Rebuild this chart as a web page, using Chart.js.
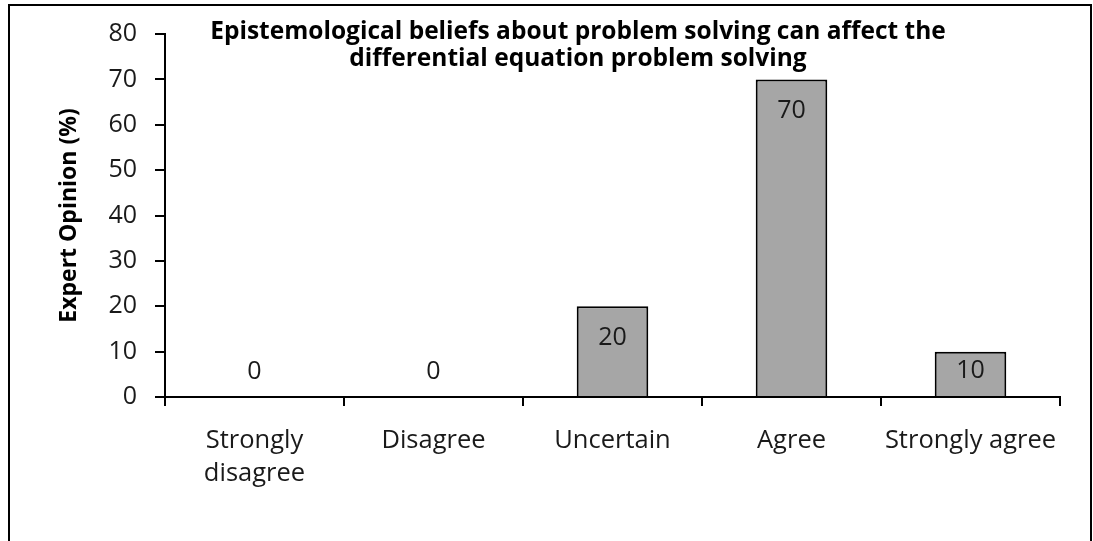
<!DOCTYPE html>
<html>
<head>
<meta charset="utf-8">
<script src="https://cdn.jsdelivr.net/npm/chart.js@4.4.1/dist/chart.umd.min.js"></script>
<style>
  html, body { margin: 0; padding: 0; background: #ffffff; }
  #wrap { position: relative; width: 1093px; height: 541px; }
</style>
</head>
<body>
<div id="wrap"><canvas id="chart" width="1093" height="541"></canvas></div>
<script>
// Responses of the expert panel
const categories = [['Strongly', 'disagree'], 'Disagree', 'Uncertain', 'Agree', 'Strongly agree'];
const opinionPercent = [0, 0, 20, 70, 10];
const yTicks = [0, 10, 20, 30, 40, 50, 60, 70, 80];
const titleLines = [
  'Epistemological beliefs about problem solving can affect the',
  'differential equation problem solving'
];
const yAxisTitle = 'Expert Opinion (%)';

const FONT = "'Open Sans', 'Liberation Sans', sans-serif";
const INK = '#1a1a1a';

// Outer frame around the whole figure
const framePlugin = {
  id: 'frame',
  afterDraw(chart) {
    const ctx = chart.ctx;
    ctx.save();
    ctx.strokeStyle = '#000';
    ctx.lineWidth = 2;
    ctx.strokeRect(9, 5, 1082, 560);
    ctx.restore();
  }
};

// Two-line bold title sitting inside the plot area
const innerTitlePlugin = {
  id: 'innerTitle',
  afterDraw(chart) {
    const ctx = chart.ctx;
    ctx.save();
    ctx.font = 'bold 24.5px ' + FONT;
    ctx.fillStyle = '#000';
    ctx.textAlign = 'center';
    ctx.textBaseline = 'alphabetic';
    const cx = 578;
    ctx.fillText(titleLines[0], cx, 39);
    ctx.fillText(titleLines[1], cx, 65.5);
    ctx.restore();
  }
};

// Value labels: inside the top of a bar, or just above the axis for short bars
const valueLabelPlugin = {
  id: 'valueLabels',
  afterDatasetsDraw(chart) {
    const ctx = chart.ctx;
    const meta = chart.getDatasetMeta(0);
    const size = 25;
    ctx.save();
    ctx.font = size + 'px ' + FONT;
    ctx.fillStyle = INK;
    ctx.textAlign = 'center';
    ctx.textBaseline = 'alphabetic';
    meta.data.forEach((bar, i) => {
      const centre = Math.min(bar.y + 29.5, bar.base - 27);
      ctx.fillText(String(opinionPercent[i]), bar.x, centre + 0.357 * size);
    });
    ctx.restore();
  }
};

new Chart(document.getElementById('chart'), {
  type: 'bar',
  data: {
    labels: categories,
    datasets: [{
      data: opinionPercent,
      backgroundColor: '#a6a6a6',
      borderColor: '#000000',
      borderWidth: 2,
      barPercentage: 0.4,
      categoryPercentage: 1.0
    }]
  },
  options: {
    responsive: false,
    animation: false,
    devicePixelRatio: 1,
    layout: { padding: { top: 34, right: 33, left: 0, bottom: 0 } },
    plugins: {
      legend: { display: false },
      tooltip: { enabled: false },
      title: { display: false }
    },
    scales: {
      x: {
        grid: {
          display: true,
          drawOnChartArea: false,
          drawTicks: true,
          tickLength: 9,
          color: '#000',
          lineWidth: 2,
          offset: true
        },
        border: { display: true, color: '#000', width: 2 },
        ticks: {
          color: INK,
          font: { family: FONT, size: 25.5, lineHeight: 1.3 },
          padding: 18,
          maxRotation: 0,
          autoSkip: false
        },
        afterFit(scale) { scale.height = 541 - 397; }
      },
      y: {
        min: 0,
        max: 80,
        afterBuildTicks(scale) { scale.ticks = yTicks.map(v => ({ value: v })); },
        grid: {
          display: true,
          drawOnChartArea: false,
          drawTicks: true,
          tickLength: 10,
          color: '#000',
          lineWidth: 2
        },
        border: { display: true, color: '#000', width: 2 },
        ticks: {
          color: INK,
          font: { family: FONT, size: 25 },
          padding: 18
        },
        title: {
          display: true,
          text: yAxisTitle,
          color: '#000',
          font: { family: FONT, size: 23, weight: 'bold', lineHeight: 1.2 },
          padding: { top: 56, bottom: 0 }
        },
        afterFit(scale) { scale.width = 165; }
      }
    }
  },
  plugins: [framePlugin, innerTitlePlugin, valueLabelPlugin]
});
</script>
</body>
</html>
